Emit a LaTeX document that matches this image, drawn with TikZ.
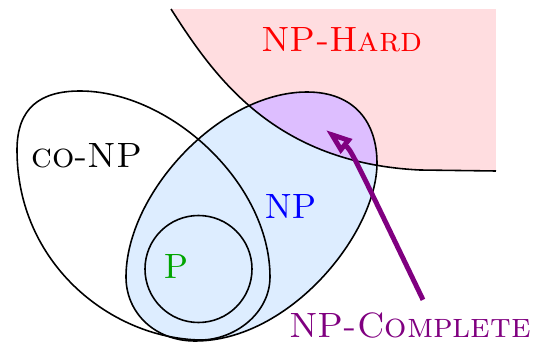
\documentclass[tikz,border=0pt]{standalone}
\usepackage{tikz}
\usetikzlibrary{arrows.meta}
\definecolor{hardfill}{RGB}{255,221,224}
\definecolor{npfill}{RGB}{221,237,255}
\definecolor{cplfill}{RGB}{221,190,255}
\definecolor{cplpurple}{RGB}{128,0,128}
\definecolor{pgreen}{RGB}{0,165,0}
% the set outlines
\newcommand{\hardedge}{(1.71,3.34) .. controls (2.15,2.65) and (2.75,1.80) .. (4.20,1.73) -- (4.96,1.72)}
\newcommand{\npblob}{(3.07,2.51) .. controls (3.55,2.51) and (3.77,2.20) .. (3.77,1.80)
  .. controls (3.77,1.10) and (2.90,0.02) .. (1.95,0.02)
  .. controls (1.55,0.02) and (1.26,0.30) .. (1.26,0.66)
  .. controls (1.26,1.50) and (2.20,2.51) .. cycle}
\newcommand{\conpblob}{(0.80,2.52) .. controls (1.70,2.52) and (2.70,1.60) .. (2.70,0.66)
  .. controls (2.70,0.30) and (2.35,0.03) .. (2.00,0.03)
  .. controls (1.10,0.05) and (0.17,0.80) .. (0.17,1.93)
  .. controls (0.17,2.35) and (0.40,2.52) .. cycle}
\tikzset{
  setline/.style={draw=black, line width=0.45pt},
  setlabel/.style={font=\normalsize},
  pointarrow/.style={-{Triangle[open, length=7.5pt, width=5pt]}, line width=1.4pt, draw=cplpurple}
}

\begin{document}
\begin{tikzpicture}
  \useasboundingbox (0,0) rectangle (5.39,3.43);
  % fills
  \fill[hardfill] \hardedge -- (4.96,3.34) -- cycle;
  \fill[npfill] \npblob;
  \begin{scope}
    \clip \npblob;
    \fill[cplfill] \hardedge -- (4.96,3.34) -- cycle;
  \end{scope}
  % outlines
  \draw[setline] \hardedge;
  \draw[setline] \npblob;
  \draw[setline] \conpblob;
  \draw[setline] (1.985,0.74) circle (0.535);
  % labels
  \node[setlabel, text=red] (hardlabel) at (3.42,3.03) {\textsc{NP-Hard}};
  \node[setlabel] (conplabel) at (0.87,1.87) {\textsc{co-NP}};
  \node[setlabel, text=blue] (nplabel) at (2.91,1.37) {NP};
  \node[setlabel, text=pgreen] (plabel) at (1.765,0.765) {P};
  \node[setlabel, text=cplpurple] (cpllabel) at (4.10,0.18) {\textsc{NP-Complete}};
  \coordinate (cpltip) at (3.26,2.13);
  \draw[pointarrow] ([xshift=0.13cm]cpllabel.north) .. controls (3.51,1.93) .. (cpltip);
\end{tikzpicture}
\end{document}
